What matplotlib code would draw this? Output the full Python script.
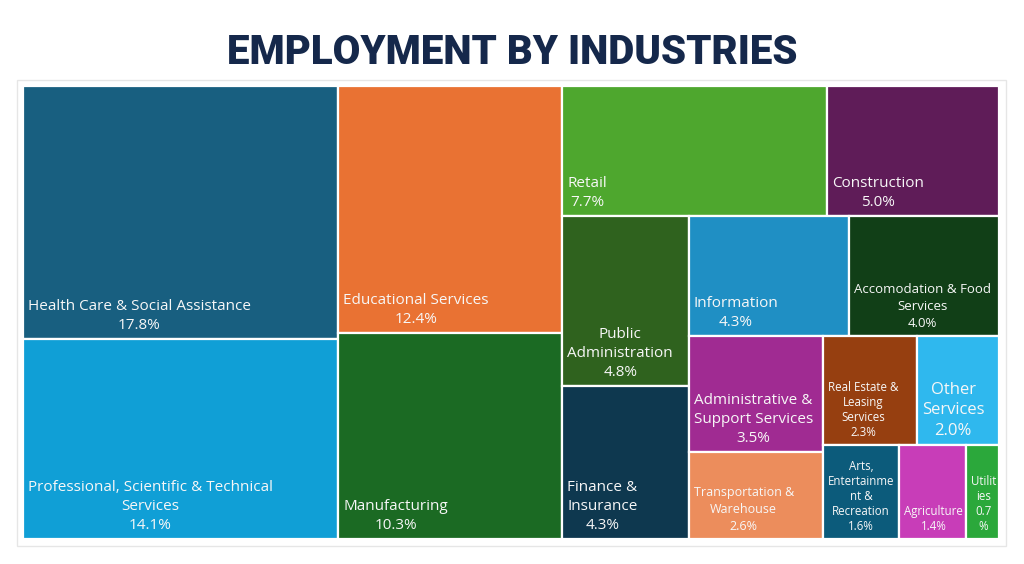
import matplotlib.pyplot as plt
from matplotlib.patches import Rectangle

industries = ['Health Care & Social Assistance', 'Professional, Scientific & Technical Services',
              'Educational Services', 'Manufacturing', 'Retail', 'Construction',
              'Public Administration', 'Finance & Insurance', 'Information',
              'Accomodation & Food Services', 'Administrative & Support Services',
              'Transportation & Warehouse', 'Real Estate & Leasing Services', 'Other Services',
              'Arts, Entertainment & Recreation', 'Agriculture', 'Utilities']
shares = [17.8, 14.1, 12.4, 10.3, 7.7, 5.0, 4.8, 4.3, 4.3, 4.0, 3.5, 2.6, 2.3, 2.0, 1.6, 1.4, 0.7]
# label text as wrapped in the original cells
labels = ['Health Care & Social Assistance', 'Professional, Scientific & Technical\nServices',
          'Educational Services', 'Manufacturing', 'Retail', 'Construction',
          'Public\nAdministration', 'Finance &\nInsurance', 'Information',
          'Accomodation & Food\nServices', 'Administrative &\nSupport Services',
          'Transportation &\nWarehouse', 'Real Estate &\nLeasing\nServices', 'Other\nServices',
          'Arts,\nEntertainme\nnt &\nRecreation', 'Agriculture', 'Utilit\nies\n0.7\n%']

colors = ['#185f80', '#109fd6', '#e97233', '#1b6a23', '#4ea72e', '#5f1c58',
          '#2f621e', '#0e384f', '#1f8fc4', '#113f17', '#a02b92', '#ec8d5c',
          '#963f10', '#2fb8ee', '#0c5b7b', '#c83db8', '#2ba83b']
font_sizes = [11, 11, 11, 11, 11, 11, 11, 11, 11, 9.5, 11, 9, 8.3, 12, 8.3, 8.3, 8.3]
groups = [2, 2, 2, 2, 2, 2, 2, 3]   # items per strip

W, H = 976, 453


def layout(values, groups, x, y, w, h):
    rects = []
    remaining = sum(values)
    i = 0
    for n in groups:
        vals = values[i:i + n]
        s = sum(vals)
        if w >= h:
            sw, sh = w * s / remaining, h
            sx, sy = x, y
            x, w = x + sw, w - sw
        else:
            sw, sh = w, h * s / remaining
            sx, sy = x, y
            y, h = y + sh, h - sh
        pos = 0
        for v in vals:
            if sh >= sw:
                ch = sh * v / s
                rects.append((sx, sy + pos, sw, ch))
                pos += ch
            else:
                cw = sw * v / s
                rects.append((sx + pos, sy, cw, sh))
                pos += cw
        remaining -= s
        i += n
    return rects


rects = layout(shares, groups, 0, 0, W, H)

plt.rcParams['font.family'] = ['Open Sans', 'DejaVu Sans']
fig = plt.figure(figsize=(10.24, 5.64), dpi=100)

# light frame around the chart
fig.add_artist(Rectangle((17 / 1024, 1 - 546 / 564), 989 / 1024, 466 / 564,
                         transform=fig.transFigure, fill=False, edgecolor='#e6e6e6', lw=1))

ax = fig.add_axes([23 / 1024, 1 - 539 / 564, W / 1024, H / 564])
ax.set_xlim(0, W)
ax.set_ylim(H, 0)
ax.axis('off')

for (rx, ry, rw, rh), lab, val, col, fs in zip(rects, labels, shares, colors, font_sizes):
    ax.add_patch(Rectangle((rx, ry), rw, rh, facecolor=col, edgecolor='white', lw=1.6))
    txt = lab if lab.endswith('%') else f'{lab}\n{val:.1f}%'
    ax.text(rx + 5, ry + rh - 6, txt, color='#f7f7f7', fontsize=fs, ha='left', va='bottom',
            multialignment='center', linespacing=1.38 if fs >= 9 else 1.2)

fig.text(0.5, 1 - 52 / 564, 'EMPLOYMENT BY INDUSTRIES', ha='center', va='center',
         fontsize=29, fontweight='heavy', color='#15284b',
         family=['Roboto', 'DejaVu Sans'])

fig.savefig('out.png', dpi=100)
